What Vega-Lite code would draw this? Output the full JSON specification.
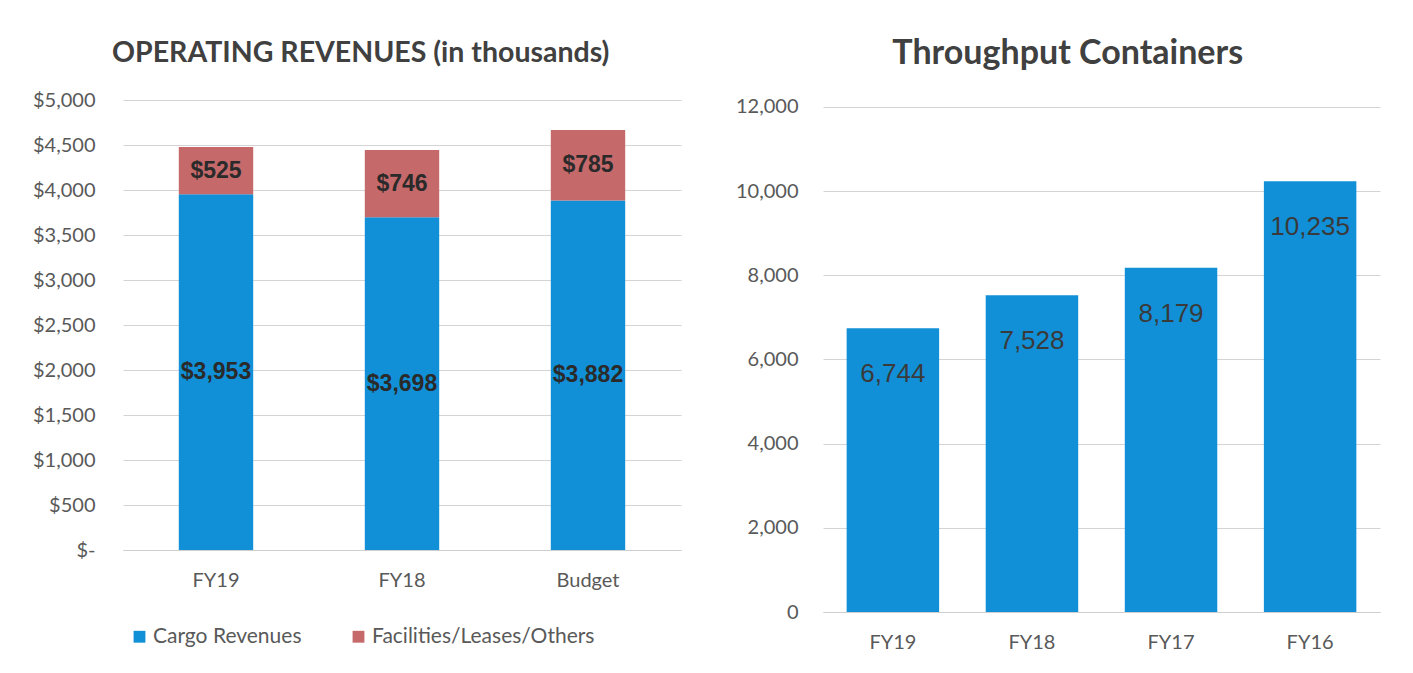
{
  "$schema": "https://vega.github.io/schema/vega-lite/v6.json",
  "background": "white",
  "padding": {"left": 32, "top": 36, "right": 10, "bottom": 5},
  "spacing": 54,
  "config": {
    "view": {"stroke": null},
    "font": "Lato",
    "title": {"font": "Lato", "fontWeight": "bold", "color": "#404040", "anchor": "middle", "frame": "bounds"},
    "axis": {"labelFont": "Lato", "labelFontSize": 20, "labelColor": "#595959", "ticks": false, "tickSize": 0, "title": null, "gridColor": "#d4d4d4", "gridWidth": 1, "domainColor": "#cfcfcf"},
    "legend": {"labelFont": "Lato", "labelFontSize": 21, "labelColor": "#595959", "labelLimit": 400}
  },
  "resolve": {"scale": {"x": "independent", "y": "independent", "color": "independent"}, "legend": {"color": "independent"}},
  "hconcat": [
    {
      "title": {"text": "OPERATING REVENUES (in thousands)", "fontSize": 28.5, "offset": 23, "dx": 4},
      "width": 558,
      "height": 450,
      "data": {"values": [
        {"period": "FY19", "category": "Cargo Revenues", "value": 3953, "order": 1},
        {"period": "FY19", "category": "Facilities/Leases/Others", "value": 525, "order": 2},
        {"period": "FY18", "category": "Cargo Revenues", "value": 3698, "order": 1},
        {"period": "FY18", "category": "Facilities/Leases/Others", "value": 746, "order": 2},
        {"period": "Budget", "category": "Cargo Revenues", "value": 3882, "order": 1},
        {"period": "Budget", "category": "Facilities/Leases/Others", "value": 785, "order": 2}
      ]},
      "encoding": {
        "x": {"field": "period", "type": "nominal", "sort": ["FY19", "FY18", "Budget"],
              "scale": {"paddingInner": 0.6, "paddingOuter": 0.3},
              "axis": {"labelAngle": 0, "labelPadding": 20, "domain": true, "grid": false}},
        "y": {"field": "value", "type": "quantitative", "stack": "zero",
              "scale": {"domain": [0, 5000]},
              "axis": {"values": [0, 500, 1000, 1500, 2000, 2500, 3000, 3500, 4000, 4500, 5000], "labelPadding": 28, "domain": false, "grid": true,
                       "labelExpr": "datum.value == 0 ? '$-\u00a0\u00a0\u00a0' : '$' + format(datum.value, ',')"}},
        "order": {"field": "order", "type": "quantitative"}
      },
      "layer": [
        {
          "mark": {"type": "bar"},
          "encoding": {
            "color": {"field": "category", "type": "nominal",
                      "scale": {"domain": ["Cargo Revenues", "Facilities/Leases/Others"], "range": ["#1190d8", "#c5696a"]},
                      "legend": {"orient": "bottom", "direction": "horizontal", "title": null, "symbolType": "square", "symbolSize": 140, "symbolStrokeWidth": 0, "columnPadding": 46, "labelOffset": 3, "offset": 30, "padding": 6}}
          }
        },
        {
          "mark": {"type": "text", "font": "Liberation Sans", "fontWeight": "bold", "fontSize": 23, "color": "#2a2a2a", "baseline": "middle"},
          "encoding": {
            "y": {"field": "value", "type": "quantitative", "stack": "zero", "bandPosition": 0.5},
            "text": {"field": "value", "type": "quantitative", "format": "$,.0f"}
          }
        }
      ]
    },
    {
      "title": {"text": "Throughput Containers", "fontSize": 34, "offset": 26, "dx": 10},
      "width": 557,
      "height": 512,
      "data": {"values": [
        {"year": "FY19", "containers": 6744},
        {"year": "FY18", "containers": 7528},
        {"year": "FY17", "containers": 8179},
        {"year": "FY16", "containers": 10235}
      ]},
      "encoding": {
        "x": {"field": "year", "type": "nominal", "sort": ["FY19", "FY18", "FY17", "FY16"],
              "scale": {"paddingInner": 0.335, "paddingOuter": 0.17},
              "axis": {"labelAngle": 0, "labelPadding": 20, "domain": true, "grid": false}},
        "y": {"field": "containers", "type": "quantitative",
              "scale": {"domain": [0, 12166], "nice": false},
              "axis": {"values": [0, 2000, 4000, 6000, 8000, 10000, 12000], "format": ",.0f", "labelPadding": 25, "domain": false, "grid": true}}
      },
      "layer": [
        {"mark": {"type": "bar", "color": "#1190d8"}},
        {
          "mark": {"type": "text", "font": "Liberation Sans", "fontSize": 26, "color": "#3a3a3a", "baseline": "middle", "dy": 46},
          "encoding": {"text": {"field": "containers", "type": "quantitative", "format": ",.0f"}}
        }
      ]
    }
  ]
}
